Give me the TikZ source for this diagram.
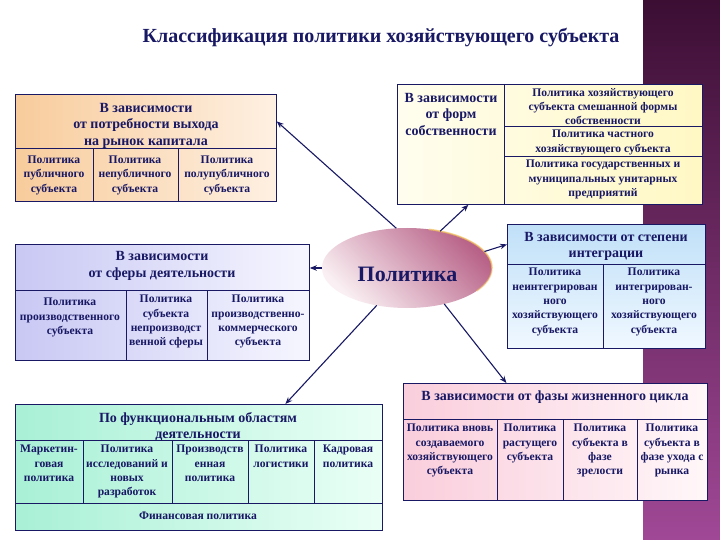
\documentclass[tikz,border=0pt]{standalone}
\usepackage{fontspec}
\setmainfont{Liberation Serif}
\usetikzlibrary{shapes.geometric,arrows.meta}
\definecolor{navy}{RGB}{24,24,100}
\definecolor{plumtop}{RGB}{60,14,52}
\definecolor{plummid}{RGB}{124,42,114}
\definecolor{plumbot}{RGB}{160,72,150}
\definecolor{peachA}{RGB}{248,204,156}
\definecolor{peachB}{RGB}{254,240,226}
\definecolor{yelA}{RGB}{255,253,238}
\definecolor{yelB}{RGB}{255,248,196}
\definecolor{lavA}{RGB}{200,200,244}
\definecolor{lavB}{RGB}{246,246,255}
\definecolor{bluA}{RGB}{192,224,248}
\definecolor{bluB}{RGB}{240,248,255}
\definecolor{pinkA}{RGB}{250,206,220}
\definecolor{pinkB}{RGB}{255,247,249}
\definecolor{mintA}{RGB}{168,240,214}
\definecolor{mintB}{RGB}{234,255,246}
\definecolor{elA}{RGB}{250,240,243}
\definecolor{elB}{RGB}{184,98,136}
\definecolor{gold}{RGB}{244,196,90}
\begin{document}
\begin{tikzpicture}[x=1pt,y=-1pt,
  box/.style={draw=navy, line width=0.8pt, inner sep=0pt, anchor=north west},
  divline/.style={draw=navy, line width=0.8pt},
  hdr/.style={text=navy, font=\fontsize{14}{16.5}\selectfont\bfseries, align=center, inner sep=0pt},
  cell/.style={text=navy, font=\fontsize{11.6}{14.4}\selectfont\bfseries, align=center, inner sep=0pt, anchor=north},
  arr/.style={draw=navy, line width=1.1pt, -{Stealth[length=7pt,width=5.5pt]}}]
\useasboundingbox (0,0) rectangle (720,540);
\fill[white] (0,0) rectangle (720,540);
\shade[top color=plumtop, middle color=plummid, bottom color=plumbot] (643,0) rectangle (720,540);

% title
\node[text=navy, font=\fontsize{20}{24}\selectfont\bfseries, inner sep=0pt] (title) at (381,38) {Классификация политики хозяйствующего субъекта};

% box 1
\node[box, left color=peachA, right color=peachB, minimum width=261pt, minimum height=107pt] (b1) at (15,94) {};
\draw[divline] (15,148) -- (276,148);
\draw[divline] (93,148) -- (93,201);
\draw[divline] (178,148) -- (178,201);
\node[hdr] (b1h) at (146,125.5) {В зависимости\\от потребности выхода\\на рынок капитала};
\node[cell] (b1c1) at (54,155.5) {Политика\\публичного\\субъекта};
\node[cell] (b1c2) at (135,155.5) {Политика\\непубличного\\субъекта};
\node[cell] (b1c3) at (227,155.5) {Политика\\полупубличного\\субъекта};

% box 2
\node[box, left color=yelA, right color=yelB, minimum width=305pt, minimum height=120pt] (b2) at (397,84) {};
\draw[divline] (504,84) -- (504,204);
\draw[divline] (504,126) -- (702,126);
\draw[divline] (504,156) -- (702,156);
\node[hdr] (b2h) at (451,114) {В зависимости\\от форм\\собственности};
\node[cell] (b2c1) at (603,88) {Политика хозяйствующего\\субъекта смешанной формы\\собственности};
\node[cell] (b2c2) at (603,130) {Политика частного\\хозяйствующего субъекта};
\node[cell] (b2c3) at (603,160) {Политика государственных и\\муниципальных унитарных\\предприятий};

% box 3
\node[box, left color=lavA, right color=lavB, minimum width=294pt, minimum height=116pt] (b3) at (15,244) {};
\draw[divline] (15,290) -- (309,290);
\draw[divline] (126,290) -- (126,360);
\draw[divline] (207,290) -- (207,360);
\node[hdr] (b3h) at (162,266) {В зависимости\\от сферы деятельности};
\node[cell] (b3c1) at (70,298) {Политика\\производственного\\субъекта};
\node[cell] (b3c2) at (166,295) {Политика\\субъекта\\непроизводст\\венной сферы};
\node[cell] (b3c3) at (258,295) {Политика\\производственно-\\коммерческого\\субъекта};

% box 4
\node[box, top color=bluA, bottom color=bluB, minimum width=198pt, minimum height=124pt] (b4) at (507,224) {};
\draw[divline] (507,264) -- (705,264);
\draw[divline] (603,264) -- (603,348);
\node[hdr] (b4h) at (606,246.5) {В зависимости от степени\\интеграции};
\node[cell] (b4c1) at (555,268) {Политика\\неинтегрирован\\ного\\хозяйствующего\\субъекта};
\node[cell] (b4c2) at (654,268) {Политика\\интегрирован-\\ного\\хозяйствующего\\субъекта};

% box 5
\node[box, left color=pinkA, right color=pinkB, minimum width=304pt, minimum height=117pt] (b5) at (403,383) {};
\draw[divline] (403,419) -- (707,419);
\draw[divline] (497,419) -- (497,500);
\draw[divline] (563,419) -- (563,500);
\draw[divline] (637,419) -- (637,500);
\node[hdr] (b5h) at (555,397.5) {В зависимости от фазы жизненного цикла};
\node[cell] (b5c1) at (450,424) {Политика вновь\\создаваемого\\хозяйствующего\\субъекта};
\node[cell] (b5c2) at (530,424) {Политика\\растущего\\субъекта};
\node[cell] (b5c3) at (600,424) {Политика\\субъекта в\\фазе\\зрелости};
\node[cell] (b5c4) at (672,424) {Политика\\субъекта в\\фазе ухода с\\рынка};

% box 6
\node[box, left color=mintA, right color=mintB, minimum width=367pt, minimum height=126pt] (b6) at (15,404) {};
\draw[divline] (15,440) -- (382,440);
\draw[divline] (15,503) -- (382,503);
\draw[divline] (83,440) -- (83,503);
\draw[divline] (172,440) -- (172,503);
\draw[divline] (248,440) -- (248,503);
\draw[divline] (314,440) -- (314,503);
\node[hdr] (b6h) at (198,426.5) {По функциональным областям\\деятельности};
\node[cell] (b6c1) at (49,445) {Маркетин-\\говая\\политика};
\node[cell] (b6c2) at (127,445) {Политика\\исследований и\\новых\\разработок};
\node[cell] (b6c3) at (210,445) {Производств\\енная\\политика};
\node[cell] (b6c4) at (281,445) {Политика\\логистики};
\node[cell] (b6c5) at (348,445) {Кадровая\\политика};
\node[cell, anchor=center] (b6f) at (198,516) {Финансовая политика};

% central ellipse
\node[ellipse, inner sep=0pt, outer sep=0pt, minimum width=170pt, minimum height=80pt,
      top color=elA, bottom color=elB, shading angle=135] (pol) at (407,268) {};
\draw[gold, line width=1.6pt, opacity=0.7] (pol.east) arc[start angle=0, end angle=75, x radius=85pt, y radius=40pt];
\draw[gold, line width=1.6pt, opacity=0.5] (pol.east) arc[start angle=0, end angle=-35, x radius=85pt, y radius=40pt];
\node[text=navy, font=\fontsize{22}{26}\selectfont\bfseries, inner sep=0pt] (polt) at (407.5,274.5) {Политика};

% arrows
\draw[arr] (pol.105) -- ([yshift=26.5pt]b1.east);
\draw[arr] (pol.48) -- ([xshift=-81.5pt]b2.south);
\draw[arr] (pol.12) -- ([yshift=42pt]b4.west);
\draw[arr] (pol.west) -- (pol.west -| b3.east);
\draw[arr] (pol.231) -- ([xshift=86.5pt]b6.north);
\draw[arr] (pol.-44) -- ([xshift=-49pt]b5.north);
\end{tikzpicture}
\end{document}
